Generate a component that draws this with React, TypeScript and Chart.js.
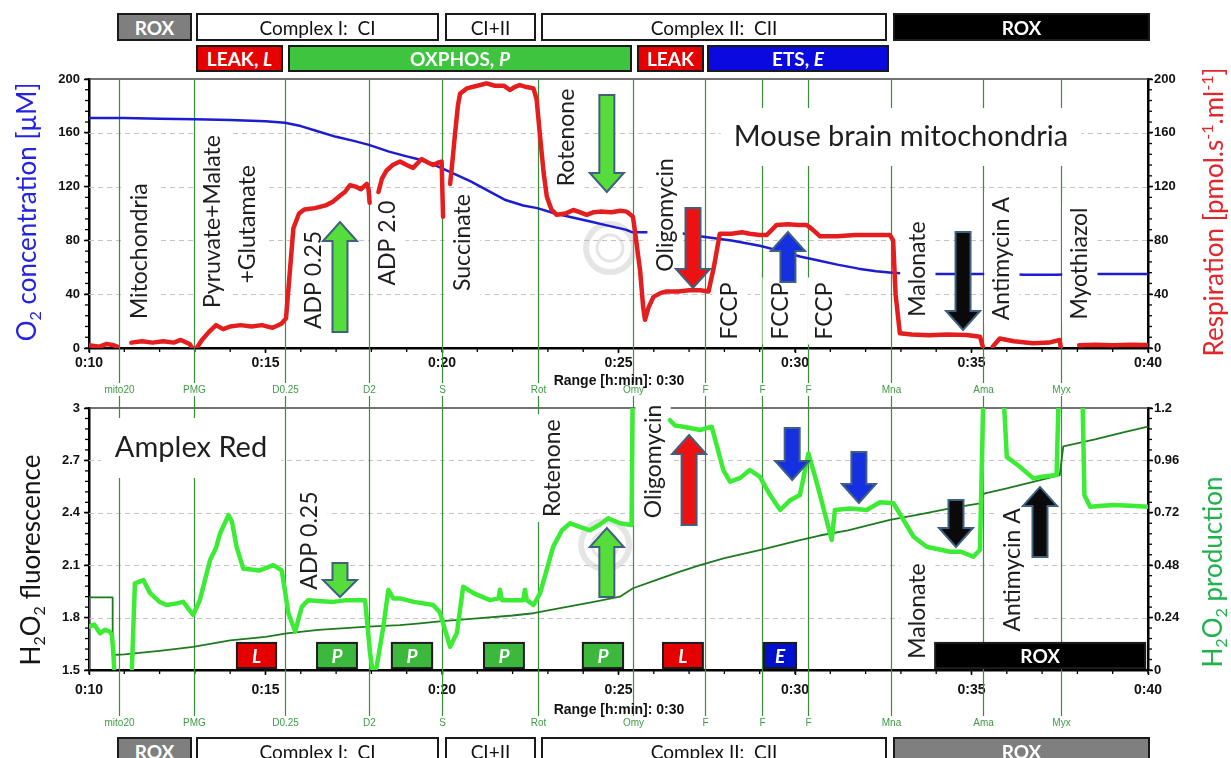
import React, { useEffect, useRef } from "react";
import { Chart, registerables } from "chart.js";
Chart.register(...registerables);

const PAGE_W = 1231;
const PAGE_H = 758;
const FONT_LABEL = 'Lato, "Open Sans", "DejaVu Sans", sans-serif';
const FONT_AXIS = '"Liberation Sans", Arial, sans-serif';

// ---------- axes ----------
const timeMin = 10;
const timeMax = 40;
const timeTickLabels = ["0:10", "0:15", "0:20", "0:25", "0:30", "0:35", "0:40"];
const o2TickLabels = ["0", "40", "80", "120", "160", "200"];
const respTickLabels = ["0", "40", "80", "120", "160", "200"];
const fluoTickLabels = ["1.5", "1.8", "2.1", "2.4", "2.7", "3"];
const prodTickLabels = ["0", "0.24", "0.48", "0.72", "0.96", "1.2"];
const o2Grid = [40, 80, 120, 160];
const fluoGrid = [1.8, 2.1, 2.4, 2.7];

// ---------- titration events ----------
const eventTimes = [10.85, 12.98, 15.55, 17.93, 20.0, 22.72, 25.41, 27.45, 29.07, 30.37, 32.72, 35.33, 37.54];
const eventCodes = ["mito20", "PMG", "D0.25", "D2", "S", "Rot", "Omy", "F", "F", "F", "Mna", "Ama", "Myx"];

// ---------- O2 concentration [µM] ----------
const o2Time = [
  10, 11, 12, 13, 14, 15, 15.55, 16, 16.5, 17,
  17.5, 17.93, 18.5, 19.0, 19.3, 19.8, 20.3, 20.8, 21.3, 21.8,
  22.3, 22.7, 23.2, 23.7, 24.2, 24.7, 25.2, 25.4, 26.0, 26.74,
  27.3, 28.2, 29.0, 29.6, 30.14, 30.6, 31.2, 31.8, 32.3, 32.75,
  33.0, 34.0, 35.0, 36.0, 36.5, 37.4, 38.0, 39.0, 40.0,
];
const o2Value = [
  171, 171, 170.5, 170, 169.5, 168.5, 167.5, 165, 161, 157,
  154, 151, 146, 142.5, 140.5, 136, 130, 124, 117, 110,
  106, 104, 100, 97, 94, 91, 88, 86, 86, 85.5,
  83, 80, 76, 72, 68, 65.5, 62, 59, 57, 56,
  55.5, 55, 55, 55, 54.5, 54.5, 55, 55, 55,
];

// ---------- Respiration [pmol/(s·ml)] ----------
const respTime = [
  10.0, 10.3, 10.5, 10.7, 10.8, 10.95, 11.2, 11.5, 11.8, 12.1,
  12.4, 12.6, 12.85, 12.92, 12.98, 13.05, 13.2, 13.4, 13.6, 13.8,
  14.0, 14.3, 14.6, 14.9, 15.2, 15.45, 15.58, 15.7, 15.79, 15.95,
  16.1, 16.4, 16.7, 16.92, 17.1, 17.25, 17.39, 17.55, 17.7, 17.87,
  17.92, 17.95, 18.05, 18.2, 18.3, 18.43, 18.6, 18.81, 19.0, 19.18,
  19.42, 19.6, 19.75, 19.9, 19.99, 20.03, 20.12, 20.23, 20.3, 20.37,
  20.45, 20.51, 20.7, 21.0, 21.26, 21.5, 21.75, 21.93, 22.05, 22.2,
  22.4, 22.59, 22.68, 22.78, 22.88, 22.97, 23.1, 23.25, 23.5, 23.72,
  23.9, 24.1, 24.3, 24.48, 24.8, 25.05, 25.23, 25.41, 25.5, 25.61,
  25.7, 25.75, 25.85, 25.99, 26.2, 26.36, 26.7, 27.0, 27.31, 27.55,
  27.7, 27.87, 28.2, 28.5, 28.72, 29.0, 29.2, 29.35, 29.48, 29.8,
  30.1, 30.33, 30.5, 30.71, 31.2, 31.7, 32.2, 32.69, 32.78, 32.85,
  32.97, 33.3, 33.8, 34.3, 34.86, 35.24, 35.3, 35.33, 35.45, 35.6,
  35.8, 36.2, 36.74, 37.2, 37.5, 37.53, 37.8, 38.05, 38.5, 39.0,
  39.5, 40.0,
];
const respValue = [
  2, 1, 3, 2, 1, null, 4, 5, 4, 5,
  4, 6, 3, 0, null, 0, 6, 12, 17, 14,
  16, 17, 16, 17, 15, 18, 22, 60, 89, 100,
  103, 104, 106, 109, 113, 116, 121, 120, 118, 122,
  118, 108, null, 116, 126, 132, 136, 138.6, 136, 133.8,
  140.5, 138, 136, 138, 138.6, 97.6, null, 122, 140, 159.6,
  180, 189, 193, 195, 196.8, 195, 195, 191.8, 194, 195.5,
  194, 193, 185, 157, 130, 112.5, 103, 99, 100, 102.6,
  101, 99, 101, 101.4, 101, 102, 101.4, 97.6, 80, 58,
  30, 21, 30, 38, 41, 42, 42, 43, 43, 42,
  60, 85, 85, 86, 85, 84, 84, 88, 91.5, 92,
  91.5, 91.5, 88, 83, 83, 84, 84, 84, 80, 40,
  11, 10, 9.5, 10, 9.7, 8.4, 3, 0, null, 1,
  7, 5, 3.5, 4, 6, 0, null, 2, 2.5, 2,
  2.5, 2.2,
];

// ---------- Amplex Red: H2O2 fluorescence ----------
const fluoTime = [
  10.0, 10.15, 10.31, 10.45, 10.59, 10.65, 10.69, 10.73, 10.95, 11.2,
  11.3, 11.54, 11.73, 12.0, 12.2, 12.45, 12.67, 12.95, 13.14, 13.43,
  13.6, 13.71, 13.95, 14.05, 14.18, 14.37, 14.6, 14.84, 15.22, 15.46,
  15.65, 15.84, 16.03, 16.21, 16.5, 16.92, 17.3, 17.82, 17.96, 18.05,
  18.15, 18.34, 18.48, 18.62, 18.81, 19.2, 19.75, 19.94, 20.23, 20.42,
  20.6, 20.89, 21.36, 21.6, 21.64, 21.7, 22.0, 22.3, 22.35, 22.4,
  22.59, 22.78, 23.15, 23.4, 23.63, 23.9, 24.19, 24.45, 24.71, 25.04,
  25.37, 25.41, 25.5, 26.46, 26.6, 26.84, 27.31, 27.64, 27.97, 28.16,
  28.45, 28.72, 29.0, 29.3, 29.58, 29.85, 30.14, 30.38, 30.55, 30.7,
  31.04, 31.13, 31.56, 32.03, 32.41, 32.79, 33.1, 33.36, 33.73, 34.39,
  34.7, 35.05, 35.24, 35.36, 35.6, 35.85, 36.0, 36.37, 36.75, 37.0,
  37.41, 37.5, 37.8, 38.12, 38.2, 38.36, 39.0, 39.5, 40.0,
];
const fluoValue = [
  1.748, 1.76, 1.71, 1.73, 1.72, 1.7, 1.6, 1.42, null, 1.42,
  1.996, 2.015, 1.94, 1.89, 1.872, 1.88, 1.89, 1.815, 1.9, 2.13,
  2.2, 2.28, 2.387, 2.35, 2.206, 2.08, 2.075, 2.07, 2.1, 2.07,
  1.825, 1.72, 1.862, 1.9, 1.895, 1.89, 1.9, 1.9, 1.6, 1.47,
  1.52, 1.75, 1.958, 1.91, 1.91, 1.89, 1.872, 1.83, 1.633, 1.71,
  1.977, 1.94, 1.9, 1.91, 1.96, 1.9, 1.9, 1.9, 1.96, 1.9,
  1.872, 1.94, 2.206, 2.3, 2.34, 2.32, 2.3, 2.33, 2.368, 2.34,
  2.33, 3.3, null, 2.93, 2.9, 2.893, 2.874, 2.893, 2.645, 2.578,
  2.6, 2.645, 2.607, 2.5, 2.416, 2.47, 2.502, 2.74, 2.62, 2.51,
  2.244, 2.416, 2.425, 2.416, 2.46, 2.454, 2.35, 2.263, 2.206, 2.177,
  2.177, 2.149, 2.187, 3.3, null, 3.3, 2.72, 2.664, 2.597, 2.607,
  2.616, 3.3, null, 3.3, 2.5, 2.435, 2.444, 2.44, 2.435,
];

// ---------- H2O2 production (cumulative trace) ----------
const prodTime = [
  10, 10, 10.67, 10.67, 11, 12, 12.95, 14, 15, 15.6,
  16.5, 17.9, 18.81, 19.38, 20, 21, 22, 22.59, 23.5, 24.3,
  25.04, 25.41, 26, 26.7, 27.31, 28, 29.0, 30.14, 30.7, 31.5,
  32.69, 33.5, 34.5, 35.24, 35.35, 36, 37, 37.5, 37.6, 38.5,
  39.3, 40,
];
const prodValue = [
  1.5, 1.916, 1.916, 1.586, 1.59, 1.61, 1.633, 1.67, 1.69, 1.71,
  1.73, 1.748, 1.757, 1.767, 1.78, 1.795, 1.812, 1.825, 1.86, 1.89,
  1.92, 1.968, 2.01, 2.06, 2.101, 2.14, 2.187, 2.244, 2.27, 2.3,
  2.359, 2.39, 2.43, 2.454, 2.51, 2.54, 2.59, 2.616, 2.78, 2.82,
  2.86, 2.893,
];

// ---------- annotations (positions in data units) ----------
type Lbl = { text: string; t: number; v: number };
const topLabels: Lbl[] = [
  { text: "Mitochondria", t: 11.42, v: 72 },
  { text: "Pyruvate+Malate", t: 13.51, v: 94 },
  { text: "+Glutamate", t: 14.5, v: 92 },
  { text: "ADP 0.25", t: 16.35, v: 50.6 },
  { text: "ADP 2.0", t: 18.47, v: 78 },
  { text: "Succinate", t: 20.57, v: 78.4 },
  { text: "Rotenone", t: 23.54, v: 156.5 },
  { text: "Oligomycin", t: 26.32, v: 98.9 },
  { text: "FCCP", t: 28.16, v: 27.5 },
  { text: "FCCP", t: 29.58, v: 27.5 },
  { text: "FCCP", t: 30.85, v: 27.5 },
  { text: "Malonate", t: 33.48, v: 58.7 },
  { text: "Antimycin A", t: 35.86, v: 66.5 },
  { text: "Myothiazol", t: 38.07, v: 62.8 },
];
const topTitle: Lbl = { text: "Mouse brain mitochondria", t: 33.0, v: 156.9 };
const bottomLabels: Lbl[] = [
  { text: "ADP 0.25", t: 16.26, v: 2.241 },
  { text: "Rotenone", t: 23.12, v: 2.656 },
  { text: "Oligomycin", t: 25.98, v: 2.694 },
  { text: "Malonate", t: 33.48, v: 1.838 },
  { text: "Antimycin A", t: 36.15, v: 2.073 },
];
const bottomTitle: Lbl = { text: "Amplex Red", t: 12.89, v: 2.771 };

type Arr = { t: number; tip: number; base: number; color: string };
const topArrows: Arr[] = [
  { t: 17.11, tip: 93.7, base: 11.9, color: "#55dd3c" },
  { t: 24.67, tip: 116, base: 188.1, color: "#55dd3c" },
  { t: 27.11, tip: 44.6, base: 104.1, color: "#ee1111" },
  { t: 29.8, tip: 86.2, base: 49, color: "#1530e0" },
  { t: 34.76, tip: 13.4, base: 86.2, color: "#0a0a0a" },
];
const bottomArrows: Arr[] = [
  { t: 17.11, tip: 1.918, base: 2.113, color: "#55dd3c" },
  { t: 24.67, tip: 2.313, base: 1.918, color: "#55dd3c" },
  { t: 27.0, tip: 2.845, base: 2.33, color: "#ee1111" },
  { t: 29.92, tip: 2.588, base: 2.885, color: "#1530e0" },
  { t: 31.81, tip: 2.456, base: 2.748, color: "#1530e0" },
  { t: 34.56, tip: 2.204, base: 2.473, color: "#0a0a0a" },
  { t: 36.94, tip: 2.548, base: 2.147, color: "#0a0a0a" },
];

const stateStart = [14.19, 16.46, 18.58, 21.19, 23.99, 26.26, 29.12, 33.97];
const stateEnd = [15.3, 17.59, 19.72, 22.32, 25.13, 27.39, 30.03, 39.92];
const stateText = ["L", "P", "P", "P", "P", "L", "E", "ROX"];
const stateColor = ["#e50000", "#3cb83c", "#3cb83c", "#3cb83c", "#3cb83c", "#e50000", "#0010cc", "#000000"];
const stateLow = 1.511;
const stateHigh = 1.655;

// ---------- drawing helpers ----------
type Seg = [string, number];
function drawRichRotated(ctx: any, segs: Seg[], cx: number, cy: number, size: number, color: string) {
  ctx.save();
  ctx.translate(cx, cy);
  ctx.rotate(-Math.PI / 2);
  ctx.fillStyle = color;
  ctx.textBaseline = "alphabetic";
  ctx.textAlign = "left";
  const small = size * 0.62;
  const widths = segs.map(([t, k]) => {
    ctx.font = `${k ? small : size}px ${FONT_LABEL}`;
    return ctx.measureText(t).width;
  });
  const total = widths.reduce((s, w) => s + w, 0);
  let x = -total / 2;
  const base = size * 0.35;
  segs.forEach(([t, k], i) => {
    ctx.font = `${k ? small : size}px ${FONT_LABEL}`;
    const dy = k === 1 ? size * 0.2 : k === 2 ? -size * 0.4 : 0;
    ctx.fillText(t, x, base + dy);
    x += widths[i];
  });
  ctx.restore();
}

function drawLabel(ctx: any, text: string, x: number, y: number, size: number, rotate: boolean, pad: number) {
  ctx.save();
  ctx.font = `${size}px ${FONT_LABEL}`;
  const w = ctx.measureText(text).width;
  const h = size * 1.1;
  ctx.fillStyle = "#ffffff";
  if (rotate) ctx.fillRect(x - h / 2 - pad, y - w / 2 - pad, h + 2 * pad, w + 2 * pad);
  else ctx.fillRect(x - w / 2 - pad, y - h / 2 - pad, w + 2 * pad, h + 2 * pad);
  ctx.translate(x, y);
  if (rotate) ctx.rotate(-Math.PI / 2);
  ctx.fillStyle = "#1e1e1e";
  ctx.textAlign = "center";
  ctx.textBaseline = "middle";
  ctx.fillText(text, 0, 0);
  ctx.restore();
}

function drawArrow(ctx: any, x: number, yTip: number, yBase: number, fill: string) {
  const len = Math.abs(yBase - yTip);
  const headL = Math.min(19, len * 0.5);
  const sw = 7.5;
  const hw = 17;
  const yNeck = yTip + (yBase > yTip ? headL : -headL);
  ctx.save();
  ctx.beginPath();
  ctx.moveTo(x - sw, yBase);
  ctx.lineTo(x - sw, yNeck);
  ctx.lineTo(x - hw, yNeck);
  ctx.lineTo(x, yTip);
  ctx.lineTo(x + hw, yNeck);
  ctx.lineTo(x + sw, yNeck);
  ctx.lineTo(x + sw, yBase);
  ctx.closePath();
  ctx.fillStyle = fill;
  ctx.fill();
  ctx.strokeStyle = "#40607f";
  ctx.lineWidth = 2;
  ctx.stroke();
  ctx.restore();
}

function drawCommon(chart: any, gridVals: number[], leftStep: number, rightStep: number, evTop: number, evBottom: number, evLabelY: number, rangeY: number) {
  const ctx = chart.ctx;
  const a = chart.chartArea;
  const xs = chart.scales.x;
  const ys = chart.scales.y;
  const yr = chart.scales.y1;
  ctx.save();
  ctx.strokeStyle = "#c4c4c4";
  ctx.lineWidth = 1;
  ctx.setLineDash([5, 4]);
  gridVals.forEach((v) => {
    const y = Math.round(ys.getPixelForValue(v)) + 0.5;
    ctx.beginPath();
    ctx.moveTo(a.left, y);
    ctx.lineTo(a.right, y);
    ctx.stroke();
  });
  ctx.setLineDash([]);
  ctx.strokeStyle = "#444";
  ctx.lineWidth = 1.5;
  ctx.beginPath();
  ctx.moveTo(a.left, a.top);
  ctx.lineTo(a.right, a.top);
  ctx.stroke();
  ctx.strokeStyle = "#000";
  ctx.lineWidth = 1.3;
  for (let t = timeMin; t <= timeMax; t += 1) {
    const x = xs.getPixelForValue(t);
    ctx.beginPath();
    ctx.moveTo(x, a.bottom);
    ctx.lineTo(x, a.bottom + 4);
    ctx.stroke();
  }
  for (let v = ys.min; v <= ys.max + 1e-9; v += leftStep) {
    const y = ys.getPixelForValue(v);
    ctx.beginPath();
    ctx.moveTo(a.left - 4, y);
    ctx.lineTo(a.left, y);
    ctx.stroke();
  }
  for (let v = yr.min; v <= yr.max + 1e-9; v += rightStep) {
    const y = yr.getPixelForValue(v);
    ctx.beginPath();
    ctx.moveTo(a.right, y);
    ctx.lineTo(a.right + 4, y);
    ctx.stroke();
  }
  ctx.strokeStyle = "#3a8d3a";
  ctx.lineWidth = 1.2;
  ctx.fillStyle = "#3f9a46";
  ctx.font = `10px ${FONT_AXIS}`;
  ctx.textAlign = "center";
  ctx.textBaseline = "middle";
  eventTimes.forEach((t, i) => {
    const x = Math.round(xs.getPixelForValue(t)) + 0.5;
    ctx.beginPath();
    ctx.moveTo(x, evTop);
    ctx.lineTo(x, evBottom);
    ctx.stroke();
    ctx.fillText(eventCodes[i], x, evLabelY);
  });
  ctx.fillStyle = "#111";
  ctx.font = `bold 14px ${FONT_AXIS}`;
  ctx.fillText("Range [h:min]: 0:30", xs.getPixelForValue(25.0) + 0.5, rangeY);
  ctx.restore();
}

function drawWatermark(ctx: any, x: number, y: number) {
  ctx.save();
  ctx.strokeStyle = "rgba(170,170,170,0.3)";
  ctx.lineWidth = 6;
  ctx.beginPath();
  ctx.arc(x, y, 24, 0, Math.PI * 2);
  ctx.stroke();
  ctx.lineWidth = 3;
  ctx.beginPath();
  ctx.arc(x, y, 13, 0, Math.PI * 2);
  ctx.stroke();
  ctx.restore();
}

const LABEL_SIZE = 23;

const topOverlay = {
  id: "topOverlay",
  beforeDatasetsDraw(chart: any) {
    drawCommon(chart, o2Grid, 8, 8, chart.chartArea.top, 383, 390, 381);
    const ctx = chart.ctx;
    drawWatermark(ctx, chart.scales.x.getPixelForValue(24.76), chart.scales.y.getPixelForValue(74.3));
    drawRichRotated(ctx, [["O", 0], ["2", 1], [" concentration [µM]", 0]], 27, 212, 26, "#2323e0");
    drawRichRotated(ctx, [["Respiration [pmol.s", 0], ["-1", 2], [".ml", 0], ["-1", 2], ["]", 0]], 1214, 212, 26, "#e3262b");
  },
  afterDatasetDraw(chart: any, args: any) {
    if (args.index !== 1) return;
    const ctx = chart.ctx;
    const xs = chart.scales.x;
    const ys = chart.scales.y;
    topLabels.forEach((l) => drawLabel(ctx, l.text, xs.getPixelForValue(l.t), ys.getPixelForValue(l.v), LABEL_SIZE, true, 5));
    drawLabel(ctx, topTitle.text, xs.getPixelForValue(topTitle.t), ys.getPixelForValue(topTitle.v), 29, false, 13);
  },
  afterDatasetsDraw(chart: any) {
    const ctx = chart.ctx;
    const xs = chart.scales.x;
    const ys = chart.scales.y;
    topArrows.forEach((a) => drawArrow(ctx, xs.getPixelForValue(a.t), ys.getPixelForValue(a.tip), ys.getPixelForValue(a.base), a.color));
  },
};

const bottomOverlay = {
  id: "bottomOverlay",
  beforeDatasetsDraw(chart: any) {
    drawCommon(chart, fluoGrid, 0.06, 0.048, 396, 716, 723, 710);
    const ctx = chart.ctx;
    drawWatermark(ctx, chart.scales.x.getPixelForValue(24.62), chart.scales.y.getPixelForValue(2.216));
    drawRichRotated(ctx, [["H", 0], ["2", 1], ["O", 0], ["2", 1], [" fluorescence", 0]], 31, 560, 26, "#151515");
    drawRichRotated(ctx, [["H", 0], ["2", 1], ["O", 0], ["2", 1], [" production", 0]], 1213, 572, 26, "#22b14c");
  },
  afterDatasetDraw(chart: any, args: any) {
    if (args.index !== 1) return;
    const ctx = chart.ctx;
    const xs = chart.scales.x;
    const ys = chart.scales.y;
    bottomLabels.forEach((l) => drawLabel(ctx, l.text, xs.getPixelForValue(l.t), ys.getPixelForValue(l.v), LABEL_SIZE, true, 5));
    drawLabel(ctx, bottomTitle.text, xs.getPixelForValue(bottomTitle.t), ys.getPixelForValue(bottomTitle.v), 29, false, 14);
  },
  afterDatasetsDraw(chart: any) {
    const ctx = chart.ctx;
    const xs = chart.scales.x;
    const ys = chart.scales.y;
    bottomArrows.forEach((a) => drawArrow(ctx, xs.getPixelForValue(a.t), ys.getPixelForValue(a.tip), ys.getPixelForValue(a.base), a.color));
    ctx.save();
    stateText.forEach((txt, i) => {
      const x0 = xs.getPixelForValue(stateStart[i]);
      const x1 = xs.getPixelForValue(stateEnd[i]);
      const y0 = ys.getPixelForValue(stateHigh);
      const y1 = ys.getPixelForValue(stateLow);
      ctx.fillStyle = stateColor[i];
      ctx.fillRect(x0, y0, x1 - x0, y1 - y0);
      ctx.strokeStyle = "#1c1c1c";
      ctx.lineWidth = 2;
      ctx.strokeRect(x0, y0, x1 - x0, y1 - y0);
      ctx.fillStyle = "#ffffff";
      ctx.textAlign = "center";
      ctx.textBaseline = "middle";
      ctx.font = txt === "ROX" ? `bold 19px ${FONT_LABEL}` : `italic bold 19px ${FONT_LABEL}`;
      ctx.fillText(txt, (x0 + x1) / 2, (y0 + y1) / 2 + 1);
    });
    ctx.restore();
  },
};

function zip(t: number[], v: (number | null)[]) {
  return t.map((x, i) => ({ x, y: v[i] }));
}

const tickFontX = { family: FONT_AXIS, size: 14, weight: "bold" as const };
const tickFontY = { family: FONT_AXIS, size: 13, weight: "bold" as const };

function axisX(padding: number) {
  return {
    type: "linear" as const,
    min: timeMin,
    max: timeMax,
    ticks: {
      stepSize: 5,
      autoSkip: false,
      maxRotation: 0,
      font: tickFontX,
      color: "#111",
      padding,
      callback: (_v: any, i: number) => timeTickLabels[i],
    },
    grid: { drawOnChartArea: false, drawTicks: true, tickLength: 5, tickColor: "#000", tickWidth: 1.5 },
    border: { display: true, color: "#000", width: 2.5 },
    afterFit: (s: any) => {
      s.height = 30;
    },
  };
}

function axisY(pos: "left" | "right", min: number, max: number, step: number, labels: string[], width: number, padding: number) {
  return {
    type: "linear" as const,
    position: pos,
    min,
    max,
    ticks: {
      stepSize: step,
      autoSkip: false,
      font: tickFontY,
      color: "#111",
      padding,
      callback: (_v: any, i: number) => labels[i],
    },
    grid: { drawOnChartArea: false, drawTicks: true, tickLength: 5, tickColor: "#000", tickWidth: 1.5 },
    border: { display: true, color: "#000", width: 2.5 },
    afterFit: (s: any) => {
      s.width = width;
    },
  };
}

const lineCommon = { pointRadius: 0, tension: 0, spanGaps: false, borderJoinStyle: "round", borderCapStyle: "round" };

function topConfig(): any {
  return {
    type: "line",
    data: {
      datasets: [
        { ...lineCommon, label: "Respiration", data: zip(respTime, respValue), yAxisID: "y1", borderColor: "#e41e1e", borderWidth: 4.5 },
        { ...lineCommon, label: "O2 concentration", data: zip(o2Time, o2Value), yAxisID: "y", borderColor: "#1c1cd0", borderWidth: 2.5 },
      ],
    },
    options: {
      responsive: false,
      animation: false,
      devicePixelRatio: 1,
      events: [],
      layout: { padding: { left: 50, right: 43, top: 79, bottom: 380 } },
      plugins: { legend: { display: false }, tooltip: { enabled: false }, title: { display: false } },
      scales: {
        x: axisX(2),
        y: axisY("left", 0, 200, 40, o2TickLabels, 39, 4),
        y1: axisY("right", 0, 200, 40, respTickLabels, 40, 1),
      },
    },
    plugins: [topOverlay],
  };
}

function bottomConfig(): any {
  return {
    type: "line",
    data: {
      datasets: [
        { ...lineCommon, label: "H2O2 fluorescence", data: zip(fluoTime, fluoValue), yAxisID: "y", borderColor: "#3ceb34", borderWidth: 4.5 },
        { ...lineCommon, label: "H2O2 production", data: zip(prodTime, prodValue), yAxisID: "y", borderColor: "#1f7a1f", borderWidth: 1.8 },
      ],
    },
    options: {
      responsive: false,
      animation: false,
      devicePixelRatio: 1,
      events: [],
      layout: { padding: { left: 50, right: 43, top: 408, bottom: 58 } },
      plugins: { legend: { display: false }, tooltip: { enabled: false }, title: { display: false } },
      scales: {
        x: axisX(7),
        y: axisY("left", 1.5, 3, 0.3, fluoTickLabels, 39, 4),
        y1: axisY("right", 0, 1.2, 0.24, prodTickLabels, 40, 1),
      },
    },
    plugins: [bottomOverlay],
  };
}

// ---------- header / footer boxes (page layout) ----------
type HBox = { l: number; r: number; bg: string; fg: string; bold: boolean; main: string; ital?: string };
const headerRow1: HBox[] = [
  { l: 117, r: 192, bg: "#7f7f7f", fg: "#fff", bold: true, main: "ROX" },
  { l: 196, r: 439, bg: "#fff", fg: "#111", bold: false, main: "Complex I:  CI" },
  { l: 445, r: 536, bg: "#fff", fg: "#111", bold: false, main: "CI+II" },
  { l: 541, r: 887, bg: "#fff", fg: "#111", bold: false, main: "Complex II:  CII" },
  { l: 893, r: 1150, bg: "#000", fg: "#fff", bold: true, main: "ROX" },
];
const headerRow2: HBox[] = [
  { l: 196, r: 283, bg: "#e60000", fg: "#fff", bold: true, main: "LEAK, ", ital: "L" },
  { l: 288, r: 632, bg: "#3ec43e", fg: "#fff", bold: true, main: "OXPHOS, ", ital: "P" },
  { l: 637, r: 704, bg: "#e60000", fg: "#fff", bold: true, main: "LEAK" },
  { l: 707, r: 889, bg: "#0a0ae0", fg: "#fff", bold: true, main: "ETS, ", ital: "E" },
];
const footerRow: HBox[] = [
  { l: 117, r: 192, bg: "#7f7f7f", fg: "#fff", bold: true, main: "ROX" },
  { l: 196, r: 439, bg: "#fff", fg: "#111", bold: false, main: "Complex I:  CI" },
  { l: 445, r: 536, bg: "#fff", fg: "#111", bold: false, main: "CI+II" },
  { l: 541, r: 887, bg: "#fff", fg: "#111", bold: false, main: "Complex II:  CII" },
  { l: 893, r: 1150, bg: "#7f7f7f", fg: "#fff", bold: true, main: "ROX" },
];

function Row({ boxes, top, height }: { boxes: HBox[]; top: number; height: number }) {
  return (
    <>
      {boxes.map((b, i) => (
        <div
          key={i}
          style={{
            position: "absolute",
            left: b.l,
            top,
            width: b.r - b.l,
            height,
            boxSizing: "border-box",
            background: b.bg,
            border: "2px solid #1a1a1a",
            color: b.fg,
            fontFamily: FONT_LABEL,
            fontSize: 19,
            fontWeight: b.bold ? 700 : 400,
            display: "flex",
            alignItems: "center",
            justifyContent: "center",
            whiteSpace: "pre",
            lineHeight: 1,
          }}
        >
          {b.main}
          {b.ital ? <i>{b.ital}</i> : null}
        </div>
      ))}
    </>
  );
}

export default function App() {
  const topRef = useRef<HTMLCanvasElement>(null);
  const botRef = useRef<HTMLCanvasElement>(null);
  useEffect(() => {
    const c1 = new Chart(topRef.current as HTMLCanvasElement, topConfig());
    const c2 = new Chart(botRef.current as HTMLCanvasElement, bottomConfig());
    return () => {
      c1.destroy();
      c2.destroy();
    };
  }, []);
  const cs: React.CSSProperties = { position: "absolute", left: 0, top: 0, width: PAGE_W, height: PAGE_H };
  return (
    <div style={{ position: "absolute", left: 0, top: 0, width: PAGE_W, height: PAGE_H, background: "#fff", overflow: "hidden" }}>
      <canvas ref={botRef} width={PAGE_W} height={PAGE_H} style={cs} />
      <canvas ref={topRef} width={PAGE_W} height={PAGE_H} style={cs} />
      <Row boxes={headerRow1} top={13} height={28} />
      <Row boxes={headerRow2} top={45} height={27} />
      <Row boxes={footerRow} top={737} height={28} />
    </div>
  );
}
